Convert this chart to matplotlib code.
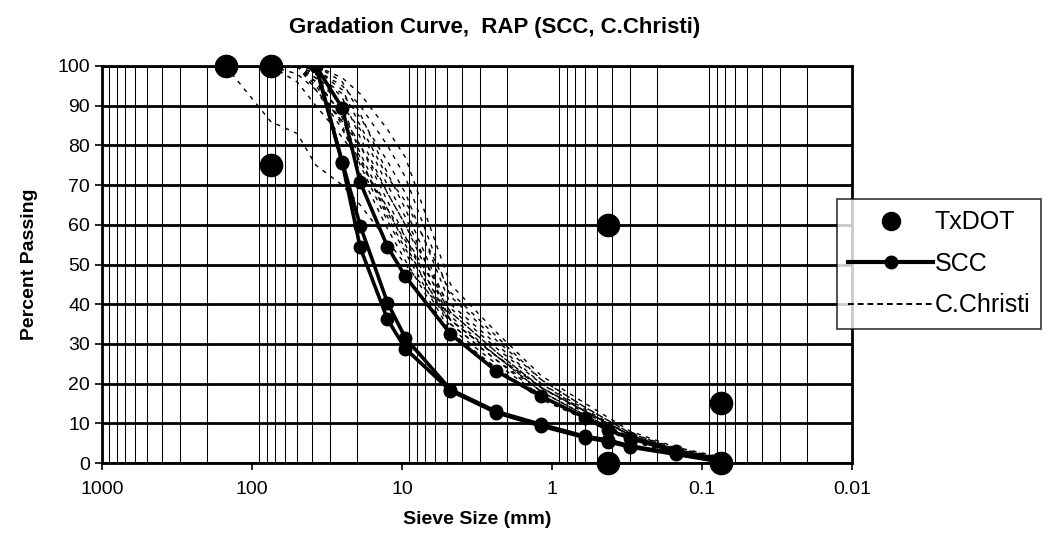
import numpy as np
from matplotlib import pyplot as plt
from matplotlib.ticker import FixedLocator, NullFormatter

plt.rcParams["font.family"] = ["Liberation Sans", "DejaVu Sans"]

# TxDOT specification points (sieve mm, % passing)
txdot_size = [150, 75, 75, 0.425, 0.425, 0.075, 0.075]
txdot_pct = [100, 100, 75, 60, 0, 15, 0]

# SCC gradations
scc_size = [37.5, 25, 19, 12.5, 9.5, 4.75, 2.36, 1.18, 0.6, 0.425, 0.3, 0.15, 0.075]
scc_a = [100, 89.4, 70.7, 54.5, 47.0, 32.5, 23.2, 16.8, 11.4, 8.4, 6.2, 2.9, 0.5]
scc_b = [100, 75.8, 59.8, 40.4, 31.5, 18.5, 13.0, 9.7, 6.7, 5.8, 4.3, 2.4, 0.4]
scc_c = [100, 75.5, 54.3, 36.2, 28.8, 18.2, 12.7, 9.3, 6.4, 5.4, 4.0, 2.2, 0.3]

# C.Christi gradations (NaN = sieve not reported)
nan = np.nan
cc_size = [150, 75, 50, 37.5, 25, 19, 12.5, 9.5, 4.75, 2.36, 1.18, 0.6, 0.3, 0.15, 0.075]
cc_curves = [
    [100, 86, 83, 75, 70, 65, 56, 50, 36, 27, 19, 12.5, 7.0, 3.2, 1.0],
    [nan, 100, 96, 90, 82, 76, 64, 57, 38, 28, 19, 13, 7.0, 3.0, 1.0],
    [nan, 100, 98, 94, 86, 80, 68, 60, 39, 29, 20, 13.5, 7.0, 3.5, 1.2],
    [nan, nan, 100, 100, 97, 93, 84, 77, 45, 33, 22, 15, 8.0, 4.0, 1.5],
    [nan, nan, 100, 99, 95, 90, 80, 72, 42, 31, 21, 14, 7.5, 3.5, 1.2],
    [nan, nan, 100, 98, 93, 87, 76, 68, 40, 30, 20, 13, 7.0, 3.5, 1.0],
    [nan, nan, 100, 100, 96, 88, 73, 64, 38, 28, 19, 13, 7.0, 3.0, 1.0],
    [nan, nan, 100, 97, 90, 84, 70, 62, 37, 27, 18, 12, 6.5, 3.0, 0.8],
    [nan, nan, 100, 99, 92, 82, 68, 60, 36, 27, 18, 12, 6.0, 3.0, 1.0],
    [nan, nan, 100, 96, 88, 80, 66, 57, 35, 26, 17, 11.5, 6.0, 2.8, 0.8],
    [nan, nan, 100, 98, 90, 78, 64, 55, 34, 25, 17, 11, 6.0, 2.5, 0.8],
    [nan, nan, 100, 95, 86, 77, 62, 54, 35, 26, 18, 12, 6.5, 3.0, 1.0],
    [nan, nan, 100, 97, 87, 75, 61, 53, 33, 24, 16, 11, 5.5, 2.5, 0.6],
    [nan, nan, 100, 94, 84, 76, 63, 56, 36, 27, 19, 13, 7.0, 3.2, 1.1],
    [nan, nan, 100, 96, 85, 73, 59, 51, 32, 24, 16.5, 11, 5.5, 2.5, 0.7],
    [nan, nan, 100, 99, 94, 85, 72, 66, 43, 32, 21, 14, 7.5, 3.8, 1.3],
]

y_ticks = list(range(0, 101, 10))
x_ticks = [1000, 100, 10, 1, 0.1, 0.01]
x_labels = ["1000", "100", "10", "1", "0.1", "0.01"]

fig = plt.figure(figsize=(10.51, 5.5), dpi=100)
ax = fig.add_axes([102 / 1051, 87 / 550, 750 / 1051, 397 / 550])

ax.set_xscale("log")
ax.set_xlim(1000, 0.01)
ax.set_ylim(0, 100)

# grid: thin log-minor verticals, heavy horizontals
minors = [m * 10.0 ** e for e in range(-2, 3) for m in range(1, 10)]
minors = [v for v in minors if 0.01 <= v <= 1000]
ax.xaxis.set_minor_locator(FixedLocator(minors))
ax.xaxis.set_minor_formatter(NullFormatter())
ax.grid(True, which="minor", axis="x", color="black", linewidth=0.75)
ax.grid(True, which="major", axis="y", color="black", linewidth=2)
ax.tick_params(axis="x", which="minor", length=0)
ax.set_axisbelow(True)

for curve in cc_curves:
    ax.plot(cc_size, curve, color="black", linewidth=1.0, linestyle=(0, (3, 4)), zorder=2)

for curve in (scc_a, scc_b, scc_c):
    ax.plot(scc_size, curve, color="black", linewidth=2.6, marker="o", markersize=9, zorder=3)

ax.plot(txdot_size, txdot_pct, linestyle="none", marker="o", color="black", markersize=16, zorder=4, clip_on=False)

ax.set_xticks(x_ticks)
ax.set_xticklabels(x_labels)
ax.set_yticks(y_ticks)
ax.tick_params(axis="both", which="major", labelsize=14, direction="out", length=5, width=1.2, color="black")
ax.tick_params(axis="x", pad=8)

for side in ("left", "bottom", "right", "top"):
    ax.spines[side].set_linewidth(2)
    ax.spines[side].set_color("black")

ax.set_xlabel("Sieve Size (mm)", fontsize=14, fontweight="bold", labelpad=9)
ax.set_ylabel("Percent Passing", fontsize=14, fontweight="bold", labelpad=14)
fig.text(495 / 1051, 1 - 27 / 550, "Gradation Curve,  RAP (SCC, C.Christi)",
         fontsize=16, fontweight="bold", ha="center", va="center")

# legend proxies
h1, = ax.plot([], [], linestyle="none", marker="o", color="black", markersize=13)
h2, = ax.plot([], [], color="black", linewidth=3, marker="o", markersize=9)
h3, = ax.plot([], [], color="black", linewidth=1.4, linestyle=(0, (3, 2)))
leg = fig.legend([h1, h2, h3], ["TxDOT", "SCC", "C.Christi"],
                 loc="upper left", bbox_to_anchor=(837 / 1051, 1 - 199 / 550),
                 fontsize=18, frameon=True, fancybox=False, edgecolor="black",
                 handlelength=3.4, handletextpad=0.05, labelspacing=0.7,
                 borderpad=0.45, borderaxespad=0)
leg.get_frame().set_linewidth(1.2)

fig.savefig("out.png", dpi=100, facecolor="white")
